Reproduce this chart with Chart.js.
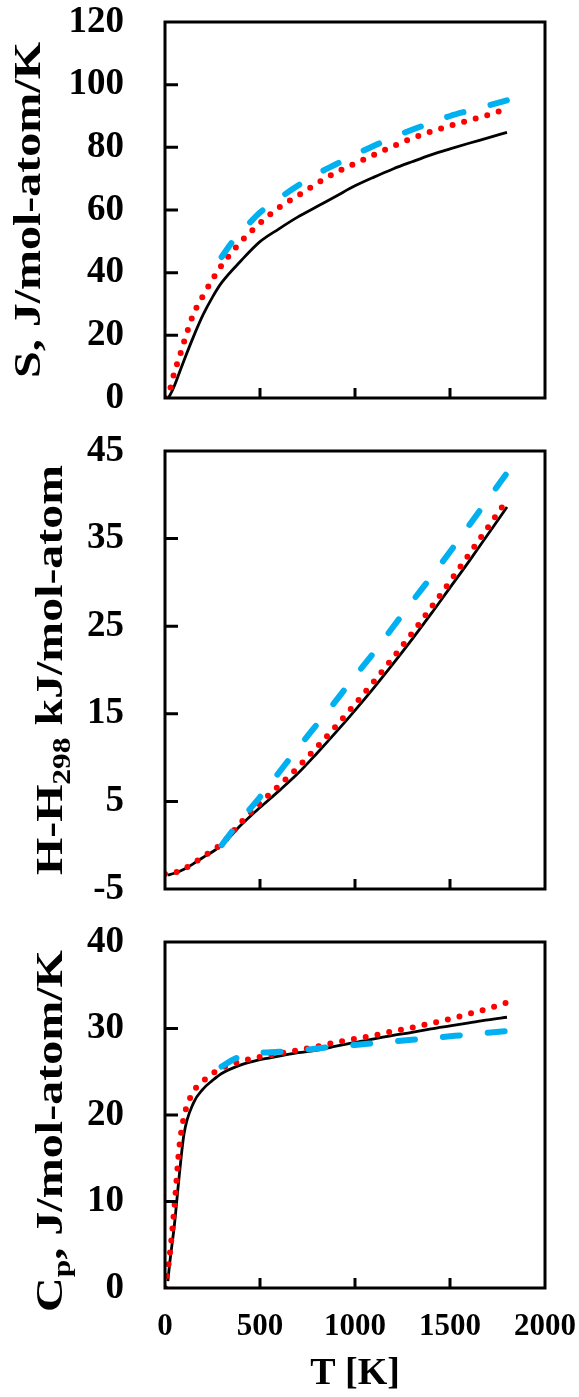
<!DOCTYPE html>
<html>
<head>
<meta charset="utf-8">
<script src="https://cdn.jsdelivr.net/npm/chart.js@4.4.1/dist/chart.umd.min.js"></script>
<style>
  body { margin: 0; background: #fff; width: 579px; height: 1397px; position: relative; overflow: hidden; }
  canvas { position: absolute; left: 0; }
</style>
</head>
<body>
<canvas id="entropyChart" width="579" height="425" style="top:0px"></canvas>
<canvas id="enthalpyChart" width="579" height="490" style="top:425px"></canvas>
<canvas id="cpChart" width="579" height="482" style="top:915px"></canvas>
<script>
// temperatures (K) for each series
const tempRed = [0, 25, 50, 75, 100, 150, 200, 250, 298, 400, 500, 600, 700, 800, 900, 1000, 1100, 1200, 1300, 1400, 1500, 1600, 1700, 1800];
const tempBlack = [15, 25, 50, 75, 100, 150, 200, 250, 298, 400, 500, 600, 700, 800, 900, 1000, 1100, 1200, 1300, 1400, 1500, 1600, 1700, 1800];
const tempBlue = [298, 350, 400, 450, 500, 600, 700, 800, 900, 1000, 1100, 1200, 1300, 1400, 1500, 1600, 1700, 1800];

// S, J/mol-atom/K
const entropyBlack = [0, 0.8, 4, 8, 12, 19.6, 26.5, 32.2, 36.8, 43.8, 49.9, 54, 57.8, 61.1, 64.4, 67.7, 70.5, 73.1, 75.4, 77.6, 79.5, 81.3, 83, 84.8];
const entropyRed = [0, 2.5, 8.3, 12.9, 17.9, 26.8, 32.6, 37.8, 42.3, 49.9, 55.8, 60.8, 64.6, 68.5, 72, 74.8, 77.6, 80.3, 82.9, 85, 86.9, 88.6, 90.3, 92.3];
const entropyBlue = [45, 49.5, 53, 56.2, 59.2, 63.7, 67.8, 71.5, 74.6, 77.7, 80.5, 83.2, 85.6, 87.8, 90, 91.7, 93.3, 95];

// H-H298, kJ/mol-atom
const enthalpyBlack = [-3.4, -3.35, -3.2, -3.0, -2.75, -2.1, -1.4, -0.75, 0, 2.3, 4.3, 6.2, 8.2, 10.5, 12.9, 15.4, 18, 20.7, 23.5, 26.4, 29.4, 32.4, 35.5, 38.6];
const enthalpyRed = [-3.3, -3.3, -3.15, -2.95, -2.7, -2.05, -1.3, -0.6, 0.15, 2.6, 4.8, 6.8, 8.9, 11.2, 13.6, 16.1, 18.7, 21.4, 24.2, 27.1, 30.1, 33.2, 36.3, 39.4];
const enthalpyBlue = [0, 1.5, 2.9, 4.2, 5.5, 8.3, 11.1, 13.8, 16.5, 19.3, 22, 24.9, 27.8, 30.6, 33.5, 36.5, 39.5, 42.5];

// Cp, J/mol-atom/K
const cpBlack = [0.8, 2.9, 7.4, 13, 17.8, 21.4, 23, 24, 24.8, 25.8, 26.4, 26.8, 27.2, 27.5, 27.95, 28.4, 28.8, 29.2, 29.55, 29.95, 30.3, 30.65, 31, 31.3];
const cpRed = [0, 3.8, 9.5, 16.2, 19.8, 22.7, 23.9, 24.8, 25.4, 26.2, 26.7, 27.1, 27.5, 27.9, 28.4, 28.8, 29.2, 29.7, 30.1, 30.6, 31.1, 31.7, 32.3, 33.0];
const cpBlue = [25.6, 26.3, 26.8, 27.1, 27.2, 27.3, 27.45, 27.7, 27.9, 28.1, 28.3, 28.5, 28.7, 28.9, 29.1, 29.3, 29.5, 29.7];

// tick labels
const tempTicks = [0, 500, 1000, 1500, 2000];
const entropyTicks = [0, 20, 40, 60, 80, 100, 120];
const enthalpyTicks = [-5, 5, 15, 25, 35, 45];
const cpTicks = [0, 10, 20, 30, 40];

const FONT = '"Liberation Serif", "Times New Roman", serif';

function toPoints(xs, ys) {
    return xs.map((x, i) => ({ x: x, y: ys[i] }));
}

// no extra room for overhanging labels, the plot box is set by the padding
function noPad(s) {
    s.paddingTop = 0;
    s.paddingBottom = 0;
    s.paddingLeft = 0;
    s.paddingRight = 0;
}

// frame round the plot and short inward ticks
const boxPlugin = {
    id: 'boxPlugin',
    afterDatasetsDraw(chart) {
        const ctx = chart.ctx;
        const { left, right, top, bottom } = chart.chartArea;
        const x = chart.scales.x, y = chart.scales.y;
        ctx.save();
        ctx.strokeStyle = '#000';
        ctx.lineWidth = 3;
        ctx.beginPath();
        y.ticks.forEach(t => {
            const py = y.getPixelForValue(t.value);
            if (py > top + 3 && py < bottom - 3) { ctx.moveTo(left, py); ctx.lineTo(left + 13, py); }
        });
        x.ticks.forEach(t => {
            const px = x.getPixelForValue(t.value);
            if (px > left + 3 && px < right - 3) { ctx.moveTo(px, bottom); ctx.lineTo(px, bottom - 10); }
        });
        ctx.stroke();
        ctx.strokeRect(left, top, right - left, bottom - top);
        ctx.restore();
    }
};

// rotated y title, every second part is a subscript
const sideTitle = {
    id: 'sideTitle',
    afterDraw(chart, args, o) {
        const ctx = chart.ctx;
        const main = 'bold ' + o.size + 'px ' + FONT;
        const sub = 'bold ' + Math.round(o.size * 0.65) + 'px ' + FONT;
        let w = 0;
        o.parts.forEach((p, i) => { ctx.font = i % 2 ? sub : main; w += ctx.measureText(p).width; });
        ctx.save();
        ctx.translate(o.x, o.y);
        ctx.rotate(-Math.PI / 2);
        ctx.scale(o.length / w, 1);
        ctx.fillStyle = '#000';
        ctx.textBaseline = 'alphabetic';
        ctx.textAlign = 'left';
        let pos = -w / 2;
        o.parts.forEach((p, i) => {
            ctx.font = i % 2 ? sub : main;
            ctx.fillText(p, pos, i % 2 ? o.size * 0.22 : 0);
            pos += ctx.measureText(p).width;
        });
        ctx.restore();
    }
};

function makePanel(id, black, red, blue, yMin, yMax, yTicks, title, pad, showX) {
    const ctx = document.getElementById(id).getContext('2d');
    return new Chart(ctx, {
        type: 'line',
        data: {
            datasets: [{
                data: toPoints(tempBlue, blue),
                borderColor: '#00B0F0',
                borderWidth: 6,
                borderDash: [17, 28],
                borderCapStyle: 'round',
                cubicInterpolationMode: 'monotone',
                pointRadius: 0,
                fill: false
            }, {
                data: toPoints(tempRed, red),
                borderColor: '#FF0000',
                borderWidth: 6,
                borderDash: [0, 12],
                borderCapStyle: 'round',
                cubicInterpolationMode: 'monotone',
                pointRadius: 0,
                fill: false
            }, {
                data: toPoints(tempBlack, black),
                borderColor: '#000000',
                borderWidth: 2.8,
                cubicInterpolationMode: 'monotone',
                pointRadius: 0,
                fill: false
            }]
        },
        options: {
            responsive: false,
            animation: false,
            devicePixelRatio: 1,
            layout: { autoPadding: false, padding: { top: pad.top, right: 34, bottom: pad.bottom, left: 0 } },
            plugins: {
                legend: { display: false },
                tooltip: { enabled: false },
                sideTitle: title
            },
            scales: {
                x: {
                    type: 'linear',
                    min: 0,
                    max: 2000,
                    grid: { display: false, drawTicks: false },
                    border: { display: false },
                    afterBuildTicks: s => { s.ticks = tempTicks.map(v => ({ value: v })); },
                    afterFit: s => { s.height = pad.xHeight; noPad(s); },
                    ticks: {
                        display: showX,
                        padding: 20,
                        color: '#000',
                        maxRotation: 0,
                        callback: v => String(v),
                        font: { family: FONT, weight: 'bold', size: 31 }
                    },
                    title: {
                        display: showX,
                        text: 'T [K]',
                        color: '#000',
                        padding: 0,
                        font: { family: FONT, weight: 'bold', size: 38 }
                    }
                },
                y: {
                    type: 'linear',
                    min: yMin,
                    max: yMax,
                    grid: { display: false, drawTicks: false },
                    border: { display: false },
                    afterBuildTicks: s => { s.ticks = yTicks.map(v => ({ value: v })); },
                    afterFit: s => { s.width = 165; noPad(s); },
                    ticks: {
                        padding: 41,
                        color: '#000',
                        callback: v => String(v),
                        font: { family: FONT, weight: 'bold', size: 37 }
                    }
                }
            }
        },
        plugins: [boxPlugin, sideTitle]
    });
}

makePanel('entropyChart', entropyBlack, entropyRed, entropyBlue, 0, 120, entropyTicks,
    { parts: ['S, J/mol-atom/K'], x: 40, y: 210, length: 336, size: 38 },
    { top: 22, bottom: 27, xHeight: 0 }, false);

makePanel('enthalpyChart', enthalpyBlack, enthalpyRed, enthalpyBlue, -5, 45, enthalpyTicks,
    { parts: ['H-H', '298', ' kJ/mol-atom'], x: 62, y: 245, length: 410, size: 38 },
    { top: 26, bottom: 26, xHeight: 0 }, false);

makePanel('cpChart', cpBlack, cpRed, cpBlue, 0, 40, cpTicks,
    { parts: ['C', 'p', ', J/mol-atom/K'], x: 62, y: 216, length: 362, size: 38 },
    { top: 27, bottom: 0, xHeight: 109 }, true);
</script>
</body>
</html>
